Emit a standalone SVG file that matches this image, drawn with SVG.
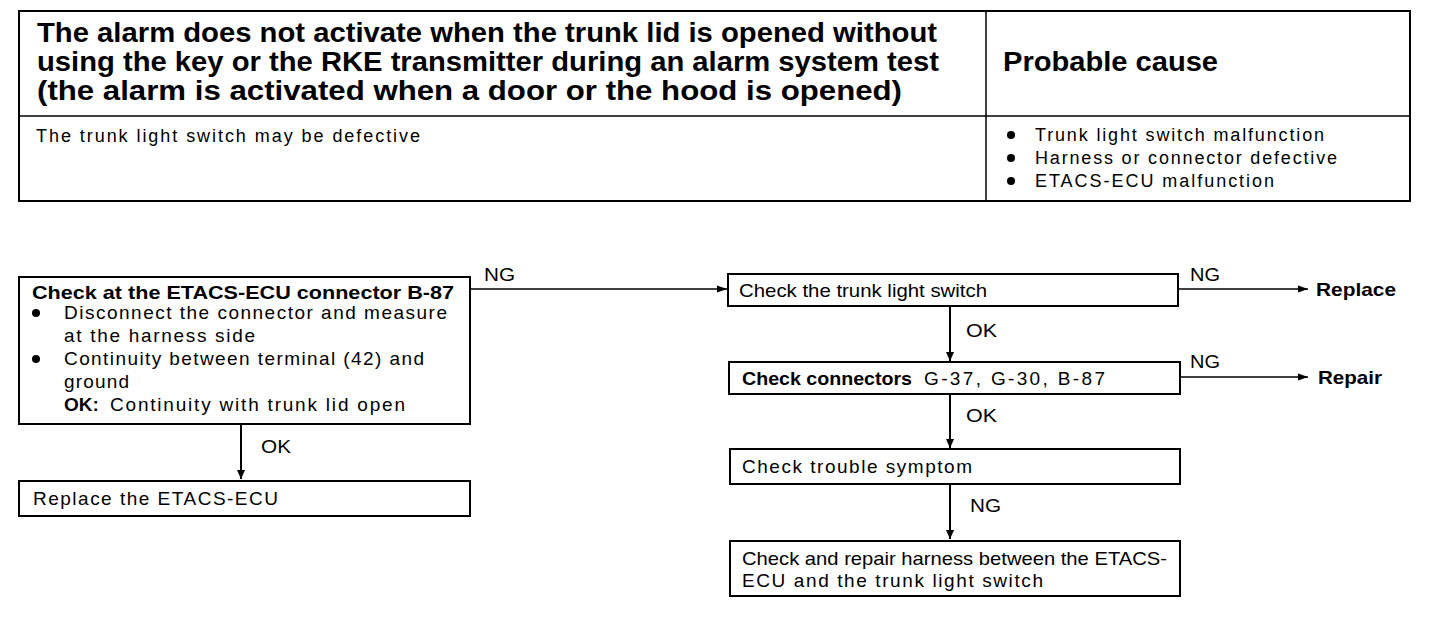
<svg xmlns="http://www.w3.org/2000/svg" width="1456" height="620" viewBox="0 0 1456 620">
<style>
text{font-family:"Liberation Sans",Arial,sans-serif;fill:#000}
.h{font-size:27px;font-weight:bold}
.t{font-size:18px}
.b{font-size:19px}
.bb{font-size:19px;font-weight:bold}
.box{fill:#fff;stroke:#000;stroke-width:2}
.ln{fill:none;stroke:#000;stroke-width:1.5}
.v{fill:none;stroke:#000;stroke-width:2}
</style>
<defs>
<marker id="ah" viewBox="0 0 10 10" refX="10" refY="5" markerWidth="12" markerHeight="10" markerUnits="userSpaceOnUse" orient="auto">
<path d="M0,1.5 L10,5 L0,8.5 Z" fill="#000"/>
</marker>
<marker id="av" viewBox="0 0 10 10" refX="10" refY="5" markerWidth="16" markerHeight="9" markerUnits="userSpaceOnUse" orient="auto">
<path d="M0,0.5 L10,5 L0,9.5 Z" fill="#000"/>
</marker>
</defs>
<rect width="1456" height="620" fill="#fff"/>
<g id="table">
<rect x="19" y="11" width="1391" height="190" class="box"/>
<line x1="19" y1="116" x2="1410" y2="116" class="ln"/>
<line x1="986" y1="11" x2="986" y2="201" class="ln"/>
<text class="h" x="37" y="42" textLength="900" lengthAdjust="spacingAndGlyphs">The alarm does not activate when the trunk lid is opened without</text>
<text class="h" x="37" y="71" textLength="902" lengthAdjust="spacingAndGlyphs">using the key or the RKE transmitter during an alarm system test</text>
<text class="h" x="37" y="100" textLength="865" lengthAdjust="spacingAndGlyphs">(the alarm is activated when a door or the hood is opened)</text>
<text class="h" x="1003" y="71" textLength="215" lengthAdjust="spacingAndGlyphs">Probable cause</text>
<text class="t" x="36" y="142" textLength="384" lengthAdjust="spacing">The trunk light switch may be defective</text>
<circle cx="1011" cy="135" r="4"/>
<circle cx="1011" cy="158" r="4"/>
<circle cx="1011" cy="181" r="4"/>
<text class="t" x="1035" y="141" textLength="289" lengthAdjust="spacing">Trunk light switch malfunction</text>
<text class="t" x="1035" y="164" textLength="302" lengthAdjust="spacing">Harness or connector defective</text>
<text class="t" x="1035" y="187" textLength="239" lengthAdjust="spacing">ETACS-ECU malfunction</text>
</g>
<g id="connectors">
<line x1="470" y1="289" x2="727" y2="289" class="ln" marker-end="url(#ah)"/>
<text class="b" x="484" y="281" textLength="31" lengthAdjust="spacingAndGlyphs">NG</text>
<line x1="241" y1="424" x2="241" y2="479" class="v" marker-end="url(#av)"/>
<text class="b" x="261" y="453" textLength="30" lengthAdjust="spacingAndGlyphs">OK</text>
<line x1="1178" y1="289" x2="1308" y2="289" class="ln" marker-end="url(#ah)"/>
<text class="b" x="1190" y="281" textLength="30" lengthAdjust="spacingAndGlyphs">NG</text>
<text class="bb" x="1316" y="296" textLength="80" lengthAdjust="spacingAndGlyphs">Replace</text>
<line x1="950" y1="306" x2="950" y2="361" class="v" marker-end="url(#av)"/>
<text class="b" x="966" y="337" textLength="31" lengthAdjust="spacingAndGlyphs">OK</text>
<line x1="1180" y1="377" x2="1308" y2="377" class="ln" marker-end="url(#ah)"/>
<text class="b" x="1190" y="368" textLength="30" lengthAdjust="spacingAndGlyphs">NG</text>
<text class="bb" x="1318" y="384" textLength="64" lengthAdjust="spacingAndGlyphs">Repair</text>
<line x1="950" y1="394" x2="950" y2="448" class="v" marker-end="url(#av)"/>
<text class="b" x="966" y="422" textLength="31" lengthAdjust="spacingAndGlyphs">OK</text>
<line x1="950" y1="484" x2="950" y2="539" class="v" marker-end="url(#av)"/>
<text class="b" x="970" y="512" textLength="31" lengthAdjust="spacingAndGlyphs">NG</text>
</g>
<g id="node-check-etacs">
<rect x="19" y="277" width="451" height="147" class="box"/>
<text class="bb" x="32" y="299" textLength="422" lengthAdjust="spacingAndGlyphs">Check at the ETACS-ECU connector B-87</text>
<circle cx="36" cy="313" r="4"/>
<text class="b" x="64" y="319" textLength="383" lengthAdjust="spacing">Disconnect the connector and measure</text>
<text class="b" x="64" y="342" textLength="191" lengthAdjust="spacing">at the harness side</text>
<circle cx="36" cy="359" r="4"/>
<text class="b" x="64" y="365" textLength="360" lengthAdjust="spacing">Continuity between terminal (42) and</text>
<text class="b" x="64" y="388" textLength="65" lengthAdjust="spacing">ground</text>
<text class="bb" x="64" y="411">OK:</text>
<text class="b" x="110" y="411" textLength="295" lengthAdjust="spacing">Continuity with trunk lid open</text>
</g>
<g id="node-replace-ecu">
<rect x="19" y="481" width="451" height="35" class="box"/>
<text class="b" x="33" y="505" textLength="245" lengthAdjust="spacing">Replace the ETACS-ECU</text>
</g>
<g id="node-trunk-switch">
<rect x="728" y="274" width="450" height="32" class="box"/>
<text class="b" x="739" y="297" textLength="248" lengthAdjust="spacingAndGlyphs">Check the trunk light switch</text>
</g>
<g id="node-connectors">
<rect x="729" y="362" width="451" height="32" class="box"/>
<text class="bb" x="742" y="385" textLength="170" lengthAdjust="spacingAndGlyphs">Check connectors</text>
<text class="b" x="924" y="385" textLength="181" lengthAdjust="spacing">G-37, G-30, B-87</text>
</g>
<g id="node-symptom">
<rect x="730" y="449" width="450" height="35" class="box"/>
<text class="b" x="742" y="473" textLength="230" lengthAdjust="spacing">Check trouble symptom</text>
</g>
<g id="node-harness">
<rect x="730" y="541" width="450" height="55" class="box"/>
<text class="b" x="742" y="565" textLength="425" lengthAdjust="spacingAndGlyphs">Check and repair harness between the ETACS-</text>
<text class="b" x="742" y="587" textLength="301" lengthAdjust="spacing">ECU and the trunk light switch</text>
</g>
</svg>
